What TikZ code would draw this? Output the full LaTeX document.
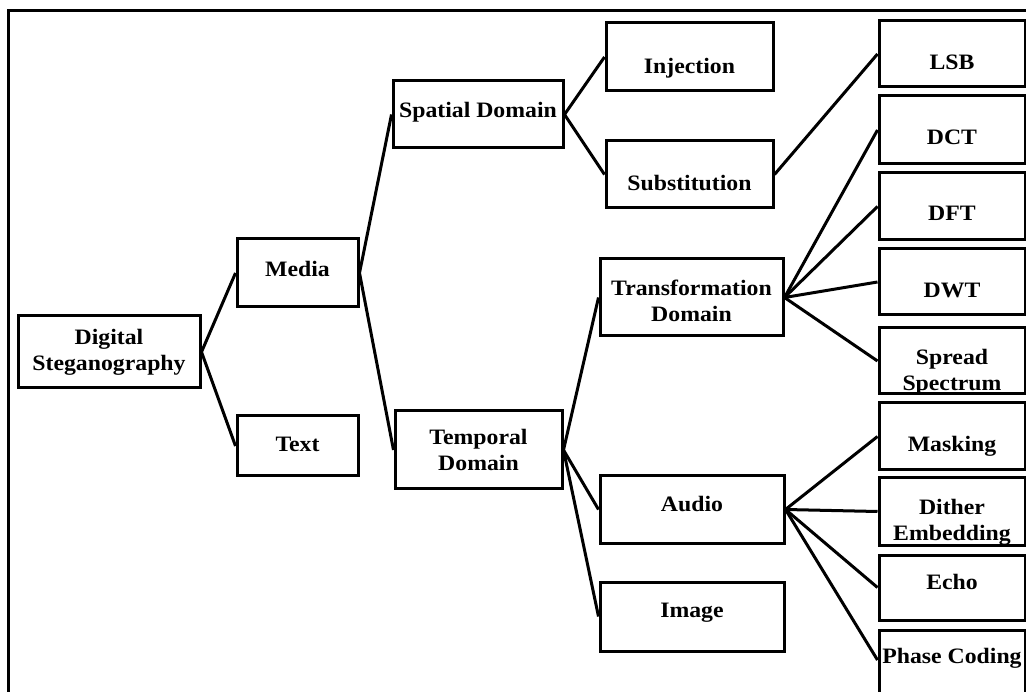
\documentclass[tikz,border=0pt]{standalone}
\usepackage{fontspec}
\setmainfont{Liberation Serif}[FakeStretch=1.08]
\tikzset{
  box/.style={draw, line width=3pt, inner sep=0pt, align=center,
    font=\bfseries\fontsize{22}{26}\selectfont},
  leaf/.style={box, minimum width=146pt},
  link/.style={line width=3pt},
  drop/.style={text height=#1pt, text depth=0pt},
  lift/.style={text height=0pt, text depth=#1pt}
}

\begin{document}
\begin{tikzpicture}[x=1pt, y=-1pt]
\useasboundingbox (0,0) rectangle (1026,692);
\clip (0,0) rectangle (1026,692);
\draw[line width=3pt] (8,720) -- (8,11) -- (1040,11);

\node[box, drop=36.6, minimum width=182pt, minimum height=72pt] (ds) at (109,352) {Digital\\Steganography};
\node[box, drop=6.6, minimum width=121pt, minimum height=68pt] (media) at (297.5,273) {Media};
\node[box, drop=10.6, minimum width=121pt, minimum height=60pt] (text) at (297.5,446) {Text};
\node[box, drop=6.6, minimum width=170pt, minimum height=67pt] (spatial) at (478,114.5) {Spatial Domain};
\node[box, drop=40.6, minimum width=167pt, minimum height=78pt] (temporal) at (478.5,450) {Temporal\\Domain};
\node[box, drop=32.6, minimum width=167pt, minimum height=68pt] (inj) at (689.5,57) {Injection};
\node[box, drop=32.6, minimum width=167pt, minimum height=67pt] (subst) at (689.5,174.5) {Substitution};
\node[box, drop=48.6, minimum width=183pt, minimum height=77pt] (transf) at (691.5,297.5) {Transformation\\Domain};
\node[box, drop=4.6, minimum width=184pt, minimum height=67pt] (audio) at (692,509.5) {Audio};
\node[box, drop=1.6, minimum width=184pt, minimum height=69pt] (image) at (692,616.5) {Image};

\node[leaf, drop=31.6, minimum height=66pt] (lsb) at (952,54) {LSB};
\node[leaf, drop=28.6, minimum height=68pt] (dct) at (952,130) {DCT};
\node[leaf, drop=27.6, minimum height=67pt] (dft) at (952,206.5) {DFT};
\node[leaf, drop=31.6, minimum height=66pt] (dwt) at (952,282) {DWT};
\node[leaf, drop=58.6, minimum height=66pt] (spread) at (952,361) {Spread\\Spectrum};
\node[leaf, drop=29.6, minimum height=67pt] (mask) at (952,436.5) {Masking};
\node[leaf, drop=57.6, minimum height=67pt] (dither) at (952,511.5) {Dither\\Embedding};
\node[leaf, drop=3.6, minimum height=65pt] (echo) at (952,587.5) {Echo};
\node[leaf, lift=3.4, minimum height=70pt] (phase) at (952,665) {Phase Coding};

\draw[link] (ds.east) to (media.west);
\draw[link] (ds.east) to (text.west);
\draw[link] (media.east) to (spatial.west);
\draw[link] (media.east) to (temporal.west);
\draw[link] (spatial.east) to (inj.west);
\draw[link] (spatial.east) to (subst.west);
\draw[link] (subst.east) to (lsb.west);
\draw[link] (temporal.east) to (transf.west);
\draw[link] (temporal.east) to (audio.west);
\draw[link] (temporal.east) to (image.west);
\draw[link] (transf.east) to (dct.west);
\draw[link] (transf.east) to (dft.west);
\draw[link] (transf.east) to (dwt.west);
\draw[link] (transf.east) to (spread.west);
\draw[link] (audio.east) to (mask.west);
\draw[link] (audio.east) to (dither.west);
\draw[link] (audio.east) to (echo.west);
\draw[link] (audio.east) to ([yshift=5pt]phase.west);
\end{tikzpicture}
\end{document}
